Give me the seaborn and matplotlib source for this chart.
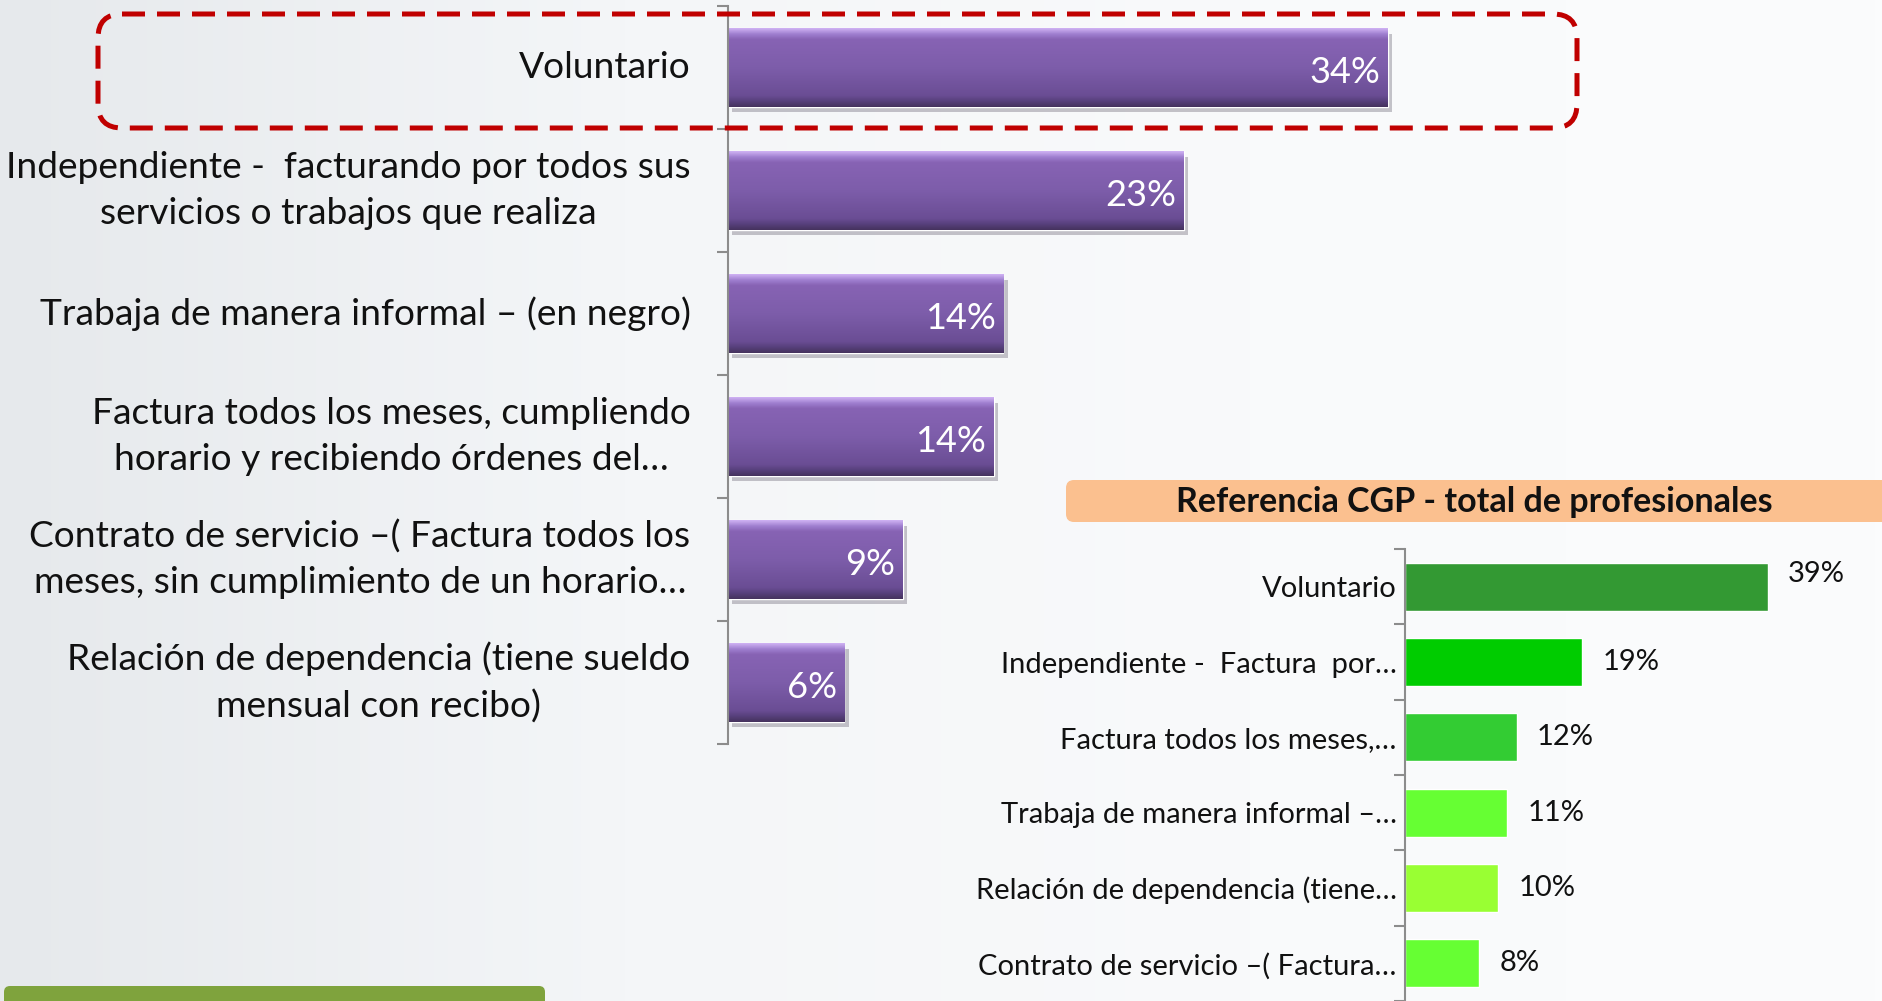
import numpy as np
import pandas as pd
import matplotlib
matplotlib.use("Agg")
import matplotlib.pyplot as plt
import matplotlib.patheffects as pe
from matplotlib.patches import FancyBboxPatch
from matplotlib.colors import LinearSegmentedColormap
import seaborn as sns

# Main chart data
categories = [
    "Voluntario",
    "Independiente -  facturando por todos sus\nservicios o trabajos que realiza",
    "Trabaja de manera informal – (en negro)",
    "Factura todos los meses, cumpliendo\nhorario y recibiendo órdenes del…",
    "Contrato de servicio –( Factura todos los\nmeses, sin cumplimiento de un horario…",
    "Relación de dependencia (tiene sueldo\nmensual con recibo)",
]
values = [34.0, 23.5, 14.2, 13.7, 9.0, 6.0]
value_labels = ["34%", "23%", "14%", "14%", "9%", "6%"]

# Reference (CGP) inset data
ref_title = "Referencia CGP - total de profesionales"
ref_categories = [
    "Voluntario",
    "Independiente -  Factura  por…",
    "Factura todos los meses,…",
    "Trabaja de manera informal –…",
    "Relación de dependencia (tiene…",
    "Contrato de servicio –( Factura…",
]
ref_values = [39, 19, 12, 11, 10, 8]
ref_labels = ["39%", "19%", "12%", "11%", "10%", "8%"]
ref_colors = ["#339933", "#00CC00", "#33CC33", "#66FF33", "#99FF33", "#66FF33"]

sns.set_style("white")
plt.rcParams['font.family'] = ['Lato', 'DejaVu Sans']

W, H = 1882, 1001
fig = plt.figure(figsize=(W / 100, H / 100), dpi=100)

# Background gradient
bg = fig.add_axes([0, 0, 1, 1], zorder=-10)
bg_cmap = LinearSegmentedColormap.from_list("bg", ["#e6e9ec", "#f4f6f8", "#f9fafb", "#fbfcfd"])
bg.imshow(np.linspace(0, 1, 256)[None, :], extent=[0, 1, 0, 1], aspect='auto', cmap=bg_cmap)
bg.axis('off')

# ---- Main chart ----
ax = fig.add_axes([728 / W, 1 - 744 / H, 776 / W, 738 / H])
ax.patch.set_alpha(0)
df = pd.DataFrame({"cat": categories, "val": values})
sns.barplot(data=df, x="val", y="cat", orient="h", color="#7b5aa6", width=0.64,
            saturation=1, ax=ax)
ax.set_xlim(0, 40)
ax.set_ylim(5.5, -0.5)

# purple bevel gradient, clipped to each bar
grad_cmap = LinearSegmentedColormap.from_list(
    "purple",
    [(0.0, "#cdb0f2"), (0.07, "#a07fd0"), (0.14, "#8763b4"), (0.5, "#7d5daa"),
     (0.86, "#6a4d94"), (0.93, "#57407c"), (1.0, "#46335f")])
for bar in ax.patches:
    x0, y0 = bar.get_x(), bar.get_y()
    w, h = bar.get_width(), bar.get_height()
    bar.set_path_effects([pe.SimplePatchShadow(offset=(3, -4), alpha=0.25), pe.Normal()])
    im = ax.imshow(np.linspace(0, 1, 100)[:, None], extent=[x0, x0 + w, y0 + h, y0],
                   aspect='auto', cmap=grad_cmap, zorder=bar.get_zorder() + 0.1)
    im.set_clip_path(bar)
ax.set_xlim(0, 40)
ax.set_ylim(5.5, -0.5)

for i, (v, lab) in enumerate(zip(values, value_labels)):
    ax.text(v - 0.4, i + 0.04, lab, color="white", fontsize=26, ha="right", va="center", zorder=5)

sns.despine(ax=ax, left=False, bottom=True)
ax.spines['left'].set_color("#8c8c8c")
ax.spines['left'].set_linewidth(1.5)
ax.set_xlabel("")
ax.set_ylabel("")
ax.set_xticks([])
ax.set_yticks(np.arange(-0.5, 6, 1), minor=True)
ax.tick_params(axis='y', which='minor', length=8, width=1.5, color="#8c8c8c", left=True)
ax.tick_params(axis='y', which='major', length=0, pad=27, labelsize=26.7, labelcolor="#111111")
for t in ax.get_yticklabels():
    t.set_multialignment('center')
    t.set_linespacing(1.45)
    t.set_verticalalignment('center')

# ---- Reference inset ----
ax2 = fig.add_axes([1405 / W, 0.0, 465 / W, 452 / H])
ax2.patch.set_alpha(0)
rdf = pd.DataFrame({"cat": ref_categories, "val": ref_values})
sns.barplot(data=rdf, x="val", y="cat", hue="cat", palette=ref_colors, orient="h",
            width=0.64, saturation=1, legend=False, ax=ax2)
ax2.set_xlim(0, 50)
ax2.set_ylim(5.5, -0.5)
for i, (v, lab) in enumerate(zip(ref_values, ref_labels)):
    dy = -0.17 if i == 0 else 0.0
    ax2.text(v + 2.2, i + dy, lab, color="#111111", fontsize=21, ha="left", va="center")
sns.despine(ax=ax2, left=False, bottom=True)
ax2.spines['left'].set_color("#8c8c8c")
ax2.spines['left'].set_linewidth(1.5)
ax2.set_xlabel("")
ax2.set_ylabel("")
ax2.set_xticks([])
ax2.set_yticks(np.arange(-0.5, 6, 1), minor=True)
ax2.tick_params(axis='y', which='minor', length=8, width=1.5, color="#8c8c8c", left=True)
ax2.tick_params(axis='y', which='major', length=0, pad=6, labelsize=21, labelcolor="#111111")

# ---- Overlay in pixel coordinates ----
ov = fig.add_axes([0, 0, 1, 1], zorder=20)
ov.set_xlim(0, W)
ov.set_ylim(H, 0)
ov.axis('off')
ov.patch.set_alpha(0)

# red dashed highlight box
ov.add_patch(FancyBboxPatch((98, 14), 1479, 114, boxstyle="round,pad=0,rounding_size=24",
                            fill=False, edgecolor="#c00000", linewidth=3.6,
                            linestyle=(0, (4.6, 2.4))))
# orange title box for the inset
ov.add_patch(FancyBboxPatch((1066, 480), 830, 42, boxstyle="round,pad=0,rounding_size=8",
                            facecolor="#fbc08f", edgecolor="none"))
ov.text(1474, 502, ref_title, fontsize=24.5, fontweight="bold", ha="center", va="center",
        color="#111111")
# green footer tab
ov.add_patch(FancyBboxPatch((4, 986), 541, 40, boxstyle="round,pad=0,rounding_size=6",
                            facecolor="#7fa33d", edgecolor="none"))

fig.savefig("out.png", dpi=100)
